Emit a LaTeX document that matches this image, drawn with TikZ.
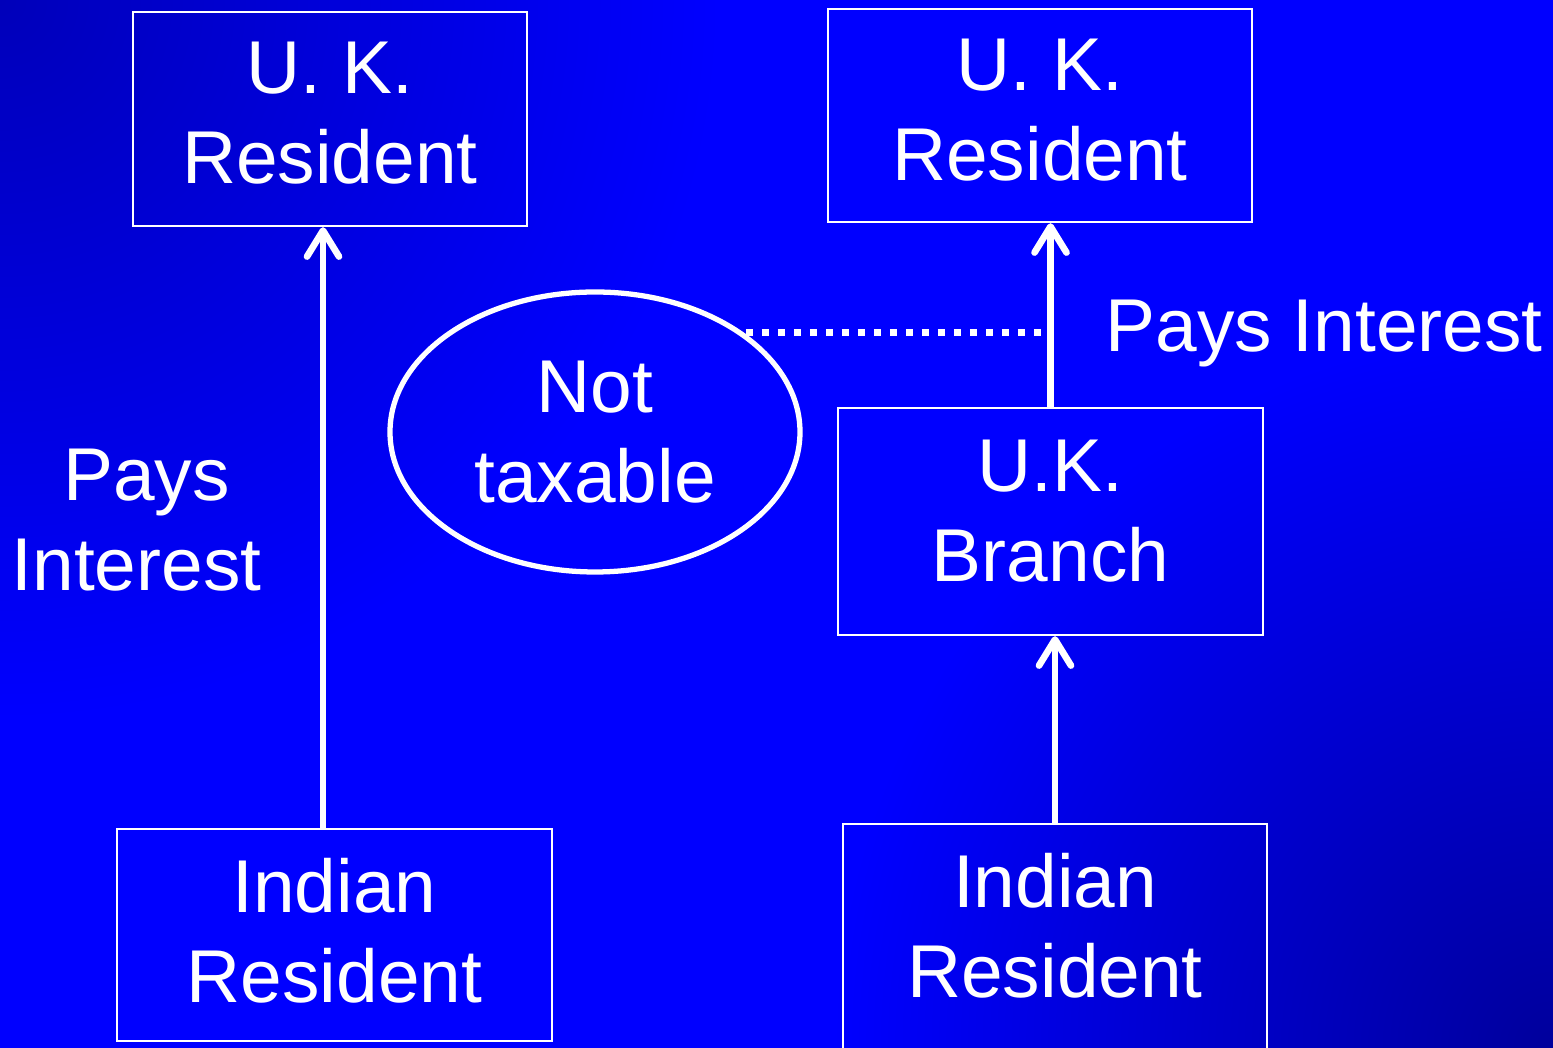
\documentclass[tikz,border=0pt]{standalone}
\usepackage{fontspec}
\setmainfont{Liberation Sans}
\usepackage{tikz}
\usetikzlibrary{arrows.meta,shapes.geometric}
\usepackage{xcolor}
\definecolor{bgdark}{RGB}{0,0,186}
\definecolor{bgdeep}{RGB}{0,0,156}
\definecolor{bgblue}{RGB}{0,0,255}

\begin{document}
\begin{tikzpicture}[
    txt/.style={font=\fontsize{21.3}{25.6}\selectfont, white, align=center, inner sep=0pt},
    box/.style={txt, draw=white, line width=0.7pt},
    arr/.style={white, line width=1.9pt, -{Straight Barb[length=2.6mm,width=3.2mm,round]}},
    dots/.style={white, line width=0.07cm, dash pattern=on 0.07cm off 0.09cm}
  ]
        \def\W{15.53}
        \def\H{10.48}
        % Background: bright blue, darker towards two corners
        \useasboundingbox (0,0) rectangle (\W,\H);
        \fill[bgblue] (0,0) rectangle (\W,\H);
        \begin{scope}
          \clip (0,0) -- (\W,\H) -- (0,\H) -- cycle;
          \shade[inner color=bgdark, outer color=bgblue] (0,\H) circle (7.2);
        \end{scope}
        \begin{scope}
          \clip (0,0) -- (\W,\H) -- (\W,0) -- cycle;
          \shade[inner color=bgdeep, outer color=bgblue] (\W,0) circle (7.2);
        \end{scope}
        % Boxes
        \node[box, minimum width=3.94cm, minimum height=2.14cm, text depth=0.12cm]
          (ukres1) at (3.30,9.29) {U. K.\\Resident};
        \node[box, minimum width=4.24cm, minimum height=2.13cm, text depth=0.11cm]
          (ukres2) at (10.40,9.325) {U. K.\\Resident};
        \node[box, minimum width=4.25cm, minimum height=2.27cm, text depth=0.21cm]
          (ukbranch) at (10.505,5.265) {U.K.\\Branch};
        \node[box, minimum width=4.35cm, minimum height=2.12cm, text depth=0.10cm]
          (indres1) at (3.345,1.13) {Indian\\Resident};
        \node[box, minimum width=4.24cm, minimum height=2.40cm, text depth=0.38cm]
          (indres2) at (10.55,1.04) {Indian\\Resident};
        % Not taxable
        \node[txt, ellipse, draw=white, line width=1.5pt, minimum width=4.1cm, minimum height=2.8cm]
          (nottax) at (5.95,6.16) {Not\\taxable};
        % Arrows
        \draw[arr] ([xshift=-1.15mm]indres1.north) -- ([xshift=-1.15mm]indres1.north |- ukres1.south);
        \draw[arr] (ukbranch.north) -- (ukbranch.north |- ukres2.south);
        \draw[arr] (indres2.north) -- (indres2.north |- ukbranch.south);
        % Dotted link
        \coordinate (dotend) at (10.43,7.15);
        \draw[dots] (dotend -| nottax.33) -- (dotend);
        % Labels
        \node[txt] (pays1) at (1.365,5.28) {\hspace*{0.2cm}Pays\\Interest};
        \node[txt, anchor=base west] (pays2) at (11.05,6.96) {Pays Interest};
      \end{tikzpicture}
\end{document}
